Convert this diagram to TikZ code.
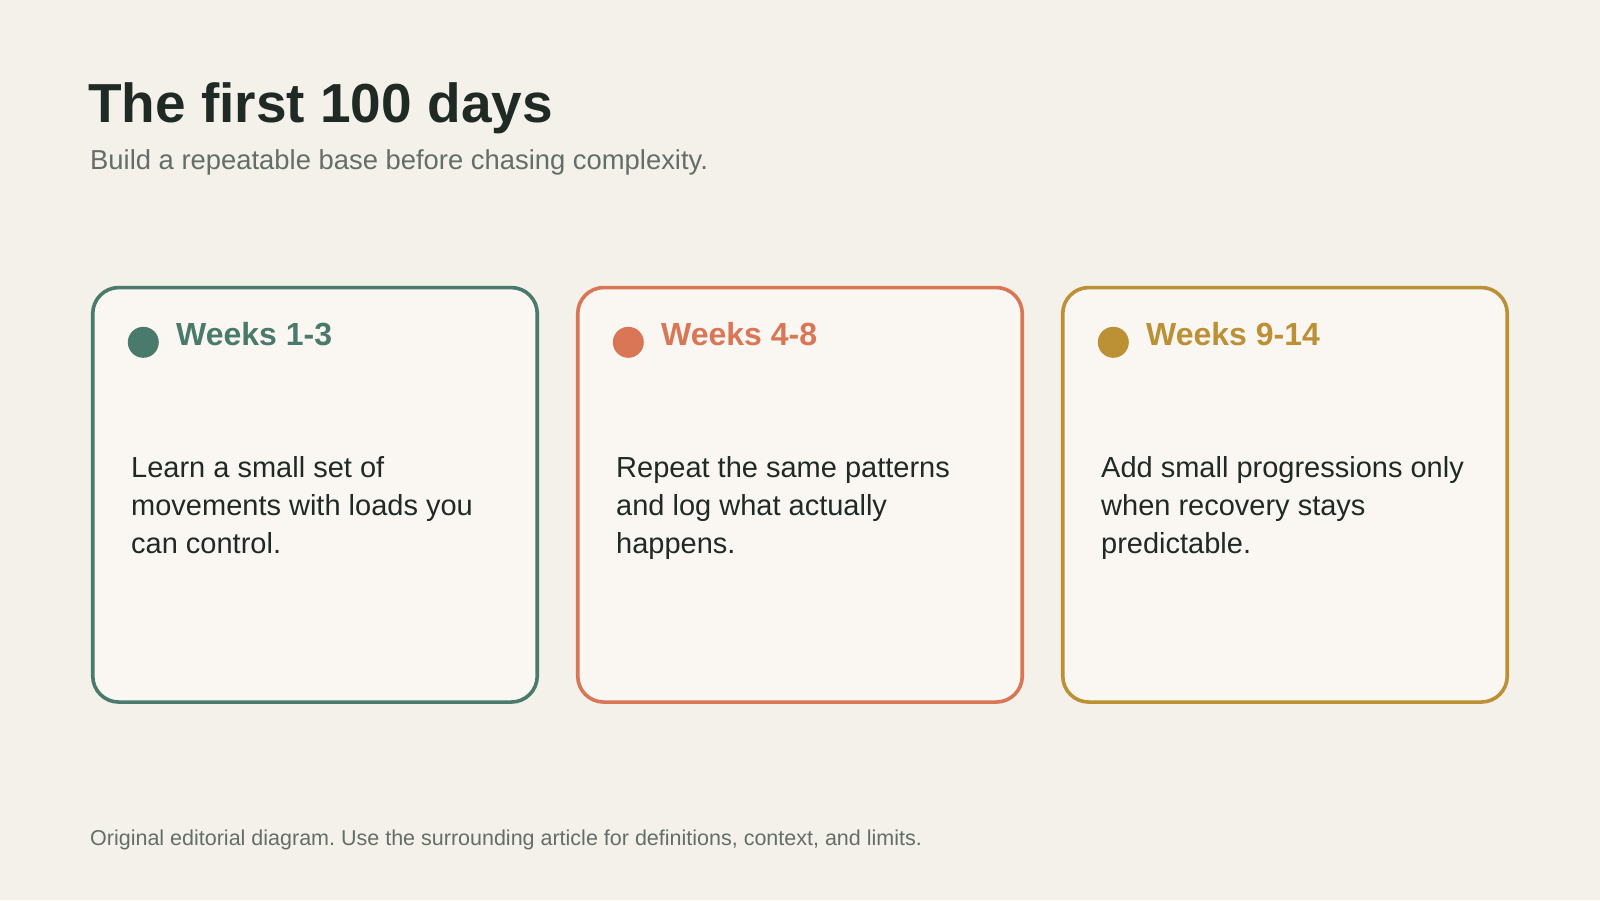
\documentclass[tikz,border=0pt]{standalone}
\usepackage{fontspec}
\setmainfont{Liberation Sans}
\usepackage{xcolor}
\usepackage{tikz}
\frenchspacing

\definecolor{paper}{HTML}{F4F0EA}
\definecolor{cardfill}{HTML}{FAF7F3}
\definecolor{ink}{HTML}{1F2A25}
\definecolor{muted}{HTML}{646E68}
\definecolor{sage}{HTML}{4A7A6B}
\definecolor{clay}{HTML}{D87656}
\definecolor{ochre}{HTML}{BC9035}

\begin{document}
\begin{tikzpicture}[x=1pt,y=-1pt,
		card/.style={draw=#1, line width=3.6pt, rounded corners=26pt, fill=cardfill,
			minimum width=444.5pt, minimum height=414.5pt, inner sep=0pt},
		dot/.style={circle, fill=#1, inner sep=0pt, minimum size=31pt},
		head/.style={anchor=base west, inner sep=0pt, text=#1,
			font=\fontsize{32}{38}\selectfont\bfseries},
		body/.style={anchor=base west, inner sep=0pt, align=left, text=ink,
			font=\fontsize{29}{38}\selectfont}]
					\fill[paper] (0,0) rectangle (1600,900);
					\useasboundingbox (0,0) rectangle (1600,900);
					
					\node[anchor=base west, inner sep=0pt, text=ink, font=\fontsize{55}{66}\selectfont\bfseries] (title) at (88,122.7) {The first 100 days};
					\node[anchor=base west, inner sep=0pt, text=muted, font=\fontsize{27.4}{32}\selectfont] (subtitle) at (90,169.3) {Build a repeatable base before chasing complexity.};
					
					\node[card=sage] (card1) at (315,494.8) {};
					\node[card=clay] (card2) at (800,494.8) {};
					\node[card=ochre] (card3) at (1285,494.8) {};
					
					\node[dot=sage] (dot1) at (143.3,342.3) {};
					\node[dot=clay] (dot2) at (628.3,342.3) {};
					\node[dot=ochre] (dot3) at (1113.3,342.3) {};
					
					\node[head=sage] (head1) at (176,345) {Weeks 1-3};
					\node[head=clay] (head2) at (661,345) {Weeks 4-8};
					\node[head=ochre] (head3) at (1146,345) {Weeks 9-14};
					
					% base anchor sits on the last line
					\node[body] (body1) at (131,553.5) {Learn a small set of\\movements with loads you\\can control.};
					\node[body] (body2) at (616,553.5) {Repeat the same patterns\\and log what actually\\happens.};
					\node[body] (body3) at (1101,553.5) {Add small progressions only\\when recovery stays\\predictable.};
					
					\node[anchor=base west, inner sep=0pt, text=muted, font=\fontsize{21.5}{26}\selectfont] (note) at (90,845) {Original editorial diagram. Use the surrounding article for definitions, context, and limits.};
				\end{tikzpicture}
\end{document}
